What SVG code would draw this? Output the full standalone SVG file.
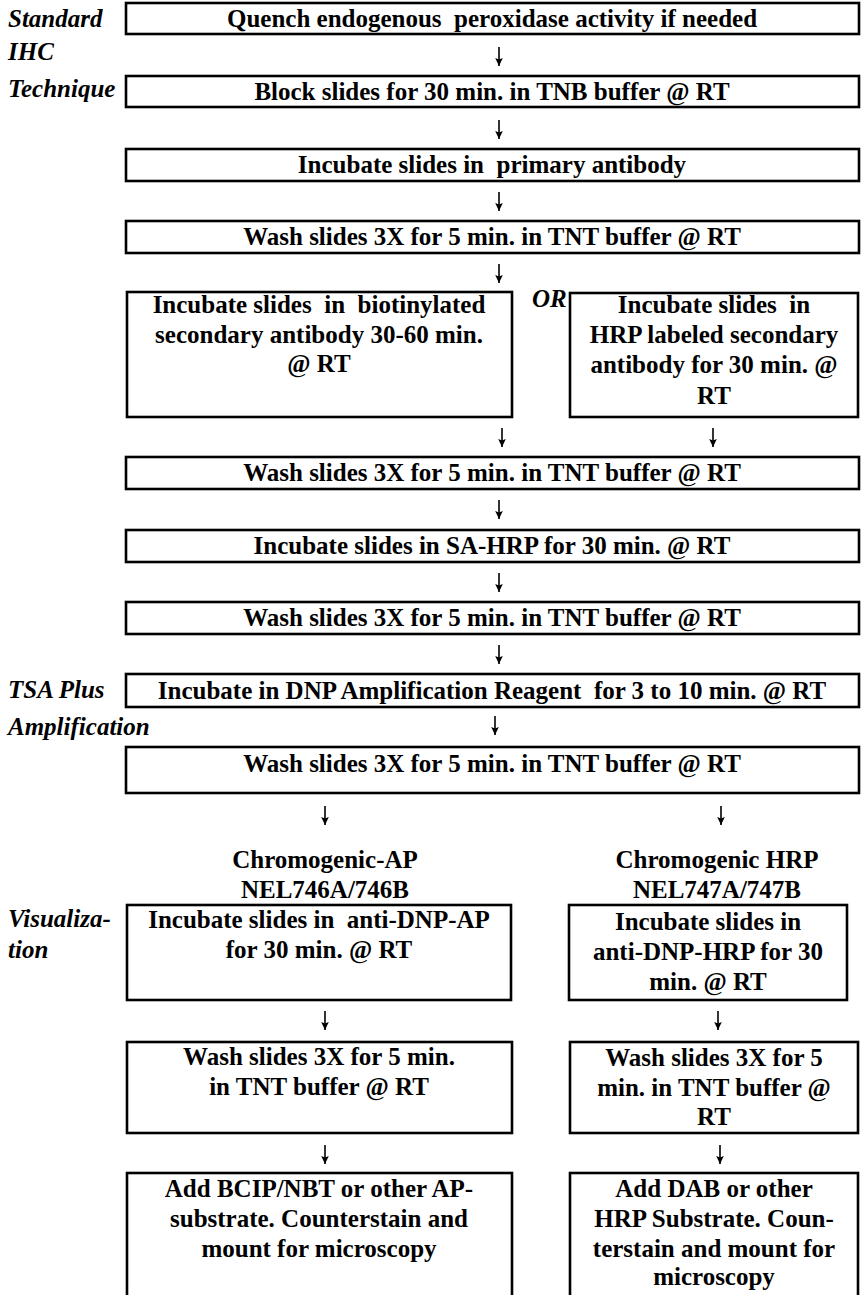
<svg xmlns="http://www.w3.org/2000/svg" width="862" height="1295" viewBox="0 0 862 1295">
<style>
.bx{fill:#fff;stroke:#000;stroke-width:2.6}
.t{font-family:"Liberation Serif","Times New Roman",serif;font-weight:bold;font-size:25px;fill:#000;text-anchor:middle}
.lb{font-family:"Liberation Serif","Times New Roman",serif;font-weight:bold;font-style:italic;font-size:25px;fill:#000}
.ar{stroke:#000;stroke-width:1.6;fill:none}
</style>
<defs>
<marker id="ah" markerUnits="userSpaceOnUse" markerWidth="10" markerHeight="10" viewBox="0 0 10 10" refX="9" refY="5" orient="auto">
<path d="M9,5 L1,1.2 L2.5,5 L1,8.8 Z" fill="#000"/>
</marker>
</defs>
<rect width="862" height="1295" fill="#fff"/>
<g id="labels">
<text class="lb" x="8" y="27">Standard</text>
<text class="lb" x="8" y="60">IHC</text>
<text class="lb" x="8" y="97">Technique</text>
<text class="lb" x="532" y="307">OR</text>
<text class="lb" x="8" y="698">TSA Plus</text>
<text class="lb" x="8" y="735">Amplification</text>
<text class="lb" x="8" y="927">Visualiza-</text>
<text class="lb" x="8" y="958">tion</text>
<text class="t" x="325" y="868">Chromogenic-AP</text>
<text class="t" x="325" y="898">NEL746A/746B</text>
<text class="t" x="717" y="868">Chromogenic HRP</text>
<text class="t" x="717" y="898">NEL747A/747B</text>
</g>
<g id="n1"><rect class="bx" x="126" y="3" width="733" height="31"/><text class="t" x="492" y="27" xml:space="preserve">Quench endogenous  peroxidase activity if needed</text></g>
<g id="n2"><rect class="bx" x="126" y="76" width="733" height="31"/><text class="t" x="492" y="100">Block slides for 30 min. in TNB buffer @ RT</text></g>
<g id="n3"><rect class="bx" x="126" y="149" width="733" height="32"/><text class="t" x="492" y="173" xml:space="preserve">Incubate slides in  primary antibody</text></g>
<g id="n4"><rect class="bx" x="126" y="221" width="733" height="32"/><text class="t" x="492" y="245">Wash slides 3X for 5 min. in TNT buffer @ RT</text></g>
<g id="n5a"><rect class="bx" x="127" y="292" width="385" height="125"/><text class="t" x="319" y="313" xml:space="preserve">Incubate slides  in  biotinylated</text><text class="t" x="319" y="343">secondary antibody 30-60 min.</text><text class="t" x="319" y="372">@ RT</text></g>
<g id="n5b"><rect class="bx" x="570" y="293" width="288" height="124"/><text class="t" x="714" y="313" xml:space="preserve">Incubate slides  in</text><text class="t" x="714" y="343">HRP labeled secondary</text><text class="t" x="714" y="373">antibody for 30 min. @</text><text class="t" x="714" y="404">RT</text></g>
<g id="n6"><rect class="bx" x="126" y="457" width="733" height="32"/><text class="t" x="492" y="481">Wash slides 3X for 5 min. in TNT buffer @ RT</text></g>
<g id="n7"><rect class="bx" x="126" y="530" width="733" height="32"/><text class="t" x="492" y="554">Incubate slides in SA-HRP for 30 min. @ RT</text></g>
<g id="n8"><rect class="bx" x="126" y="602" width="733" height="32"/><text class="t" x="492" y="626">Wash slides 3X for 5 min. in TNT buffer @ RT</text></g>
<g id="n9"><rect class="bx" x="126" y="674" width="733" height="33"/><text class="t" x="492" y="699" xml:space="preserve">Incubate in DNP Amplification Reagent  for 3 to 10 min. @ RT</text></g>
<g id="n10"><rect class="bx" x="126" y="747" width="733" height="46"/><text class="t" x="492" y="772">Wash slides 3X for 5 min. in TNT buffer @ RT</text></g>
<g id="n11a"><rect class="bx" x="127" y="905" width="384" height="95"/><text class="t" x="319" y="928" xml:space="preserve">Incubate slides in  anti-DNP-AP</text><text class="t" x="319" y="958">for 30 min. @ RT</text></g>
<g id="n11b"><rect class="bx" x="569" y="905" width="278" height="95"/><text class="t" x="708" y="930">Incubate slides in</text><text class="t" x="708" y="960">anti-DNP-HRP for 30</text><text class="t" x="708" y="990">min. @ RT</text></g>
<g id="n12a"><rect class="bx" x="127" y="1042" width="385" height="91"/><text class="t" x="319" y="1065">Wash slides 3X for 5 min.</text><text class="t" x="319" y="1095">in TNT buffer @ RT</text></g>
<g id="n12b"><rect class="bx" x="570" y="1042" width="288" height="91"/><text class="t" x="714" y="1066">Wash slides 3X for 5</text><text class="t" x="714" y="1096">min. in TNT buffer @</text><text class="t" x="714" y="1125">RT</text></g>
<g id="n13a"><rect class="bx" x="127" y="1173" width="385" height="130"/><text class="t" x="319" y="1197">Add BCIP/NBT or other AP-</text><text class="t" x="319" y="1227">substrate. Counterstain and</text><text class="t" x="319" y="1257">mount for microscopy</text></g>
<g id="n13b"><rect class="bx" x="570" y="1173" width="288" height="130"/><text class="t" x="714" y="1197">Add DAB or other</text><text class="t" x="714" y="1227">HRP Substrate. Coun-</text><text class="t" x="714" y="1257">terstain and mount for</text><text class="t" x="714" y="1285">microscopy</text></g>
<g id="connectors">
<line class="ar" x1="499" y1="47" x2="499" y2="66" marker-end="url(#ah)"/>
<line class="ar" x1="499" y1="120" x2="499" y2="139" marker-end="url(#ah)"/>
<line class="ar" x1="499" y1="192" x2="499" y2="211" marker-end="url(#ah)"/>
<line class="ar" x1="499" y1="264" x2="499" y2="283" marker-end="url(#ah)"/>
<line class="ar" x1="502" y1="428" x2="502" y2="447" marker-end="url(#ah)"/>
<line class="ar" x1="713" y1="428" x2="713" y2="447" marker-end="url(#ah)"/>
<line class="ar" x1="499" y1="500" x2="499" y2="519" marker-end="url(#ah)"/>
<line class="ar" x1="499" y1="573" x2="499" y2="592" marker-end="url(#ah)"/>
<line class="ar" x1="499" y1="645" x2="499" y2="664" marker-end="url(#ah)"/>
<line class="ar" x1="495" y1="716" x2="495" y2="735" marker-end="url(#ah)"/>
<line class="ar" x1="325" y1="806" x2="325" y2="825" marker-end="url(#ah)"/>
<line class="ar" x1="721" y1="806" x2="721" y2="825" marker-end="url(#ah)"/>
<line class="ar" x1="325" y1="1011" x2="325" y2="1030" marker-end="url(#ah)"/>
<line class="ar" x1="718" y1="1011" x2="718" y2="1030" marker-end="url(#ah)"/>
<line class="ar" x1="325" y1="1145" x2="325" y2="1164" marker-end="url(#ah)"/>
<line class="ar" x1="720" y1="1145" x2="720" y2="1164" marker-end="url(#ah)"/>
</g>
</svg>
